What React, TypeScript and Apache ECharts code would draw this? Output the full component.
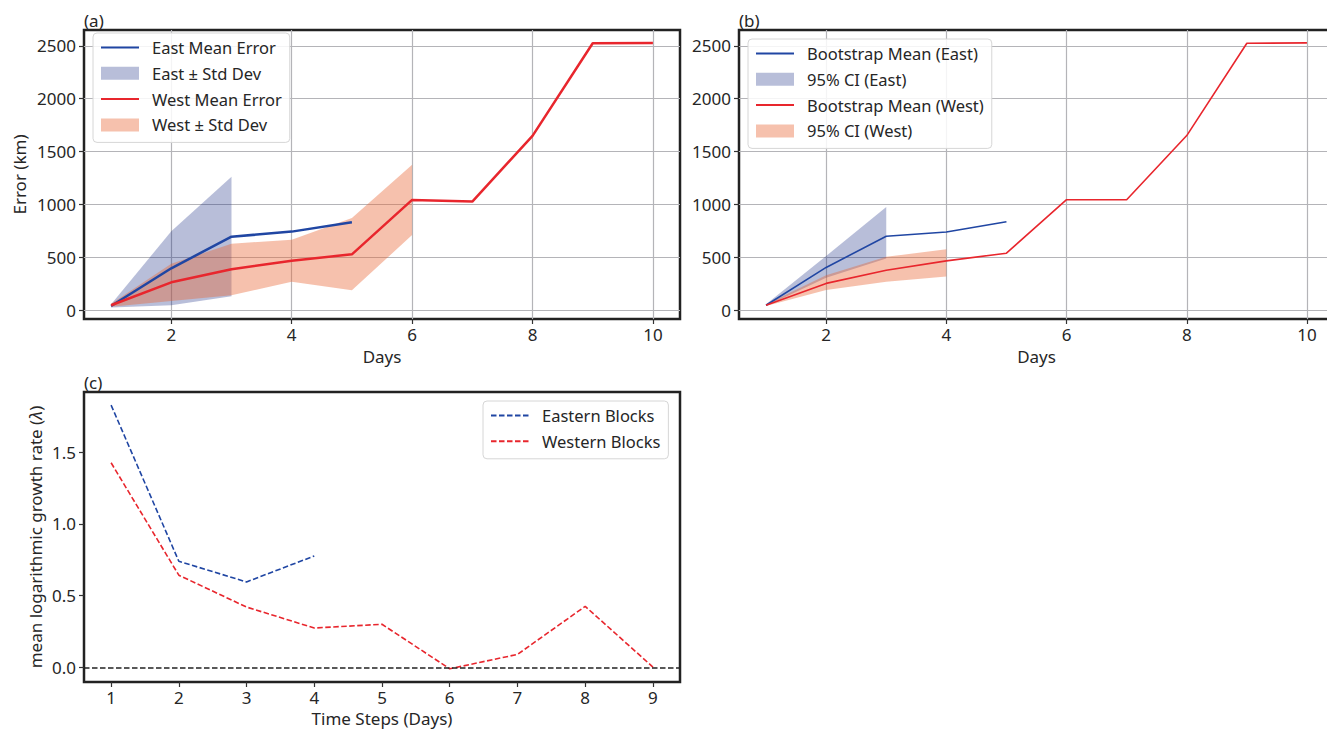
import React, { useEffect, useRef } from 'react';
import * as echarts from 'echarts';

// ---------- data ----------
const daysA = [1, 2, 3, 4, 5, 6, 7, 8, 9, 10];
const eastMeanA = [38, 395, 694, 742, 830];
const eastLowA = [25, 45, 130];
const eastHighA = [55, 745, 1262];
const westMeanA = [45, 262, 385, 467, 527, 1042, 1026, 1648, 2525, 2528];
const westLowA = [30, 85, 140, 268, 186, 710];
const westHighA = [60, 437, 628, 665, 872, 1374];

const daysB = [1, 2, 3, 4, 5, 6, 7, 8, 9, 10];
const eastMeanB = [45, 403, 698, 738, 836];
const eastLowB = [38, 305, 488];
const eastHighB = [55, 512, 975];
const westMeanB = [45, 252, 377, 465, 538, 1044, 1044, 1651, 2525, 2528];
const westLowB = [38, 190, 268, 318];
const westHighB = [55, 330, 503, 575];

const stepsC = [1, 2, 3, 4, 5, 6, 7, 8, 9];
const easternC = [1.827, 0.739, 0.595, 0.776];
const westernC = [1.425, 0.642, 0.42, 0.274, 0.3, -0.01, 0.09, 0.425, 0.002];

const errorTicks = [0, 500, 1000, 1500, 2000, 2500];
const dayTicks = [2, 4, 6, 8, 10];
const stepTicks = [1, 2, 3, 4, 5, 6, 7, 8, 9];
const lambdaTicks = [0, 0.5, 1, 1.5];

// ---------- styles ----------
const FONT = 'Noto Sans';
const TXT = '#262626';
const BLUE = '#2046a3';
const RED = '#e8262d';
const BLUE_BAND = 'rgba(20,40,130,0.3)';
const RED_BAND = 'rgba(232,100,50,0.4)';
const GRIDLINE = '#b4b4b8';

const pairs = (xs: number[], ys: number[]) => ys.map((y, i) => [xs[i], y]);
const bandRows = (xs: number[], lo: number[], hi: number[]) => hi.map((h, i) => [xs[i], lo[i], h]);

function xAxisDef(gridIndex: number, min: number, max: number, ticks: number[], name: string, nameGap: number, split: boolean) {
  return {
    type: 'value', gridIndex, min, max,
    name, nameLocation: 'middle', nameGap,
    nameTextStyle: { fontSize: 17, color: TXT, fontFamily: FONT },
    axisLine: { show: false, onZero: false },
    axisTick: { show: true, customValues: ticks, length: 5, lineStyle: { color: '#333', width: 1.2 } },
    axisLabel: { customValues: ticks, margin: 7, fontSize: 17, color: TXT, fontFamily: FONT, formatter: (v: number) => String(v) },
    splitLine: { show: split, lineStyle: { color: GRIDLINE, width: 1.2 } },
  };
}

function yAxisDef(gridIndex: number, min: number, max: number, ticks: number[], name: string | undefined, nameGap: number, split: boolean, fmt: (v: number) => string) {
  return {
    type: 'value', gridIndex, min, max,
    name, nameLocation: 'middle', nameGap,
    nameTextStyle: {
      fontSize: 17, color: TXT, fontFamily: FONT,
      rich: { i: { fontSize: 17, color: TXT, fontFamily: FONT, fontStyle: 'italic' } },
    },
    axisLine: { show: false, onZero: false },
    axisTick: { show: true, customValues: ticks, length: 5, lineStyle: { color: '#333', width: 1.2 } },
    axisLabel: { customValues: ticks, margin: 8, fontSize: 17, color: TXT, fontFamily: FONT, formatter: fmt },
    splitLine: { show: split, lineStyle: { color: GRIDLINE, width: 1.2 } },
  };
}

const lineItem = (name: string) => ({ name, itemStyle: { opacity: 0 } });
const rectItem = (name: string) => ({ name, icon: 'rect', itemStyle: { borderWidth: 0 } });

function legendDef(left: number, top: number, data: any[]) {
  return {
    orient: 'vertical', left, top,
    data,
    itemWidth: 38, itemHeight: 13, itemGap: 8.8,
    padding: [6, 8, 9, 7],
    backgroundColor: 'rgba(255,255,255,0.85)',
    borderColor: '#d6d6d6', borderWidth: 1, borderRadius: 4,
    textStyle: { fontSize: 16.5, color: TXT, fontFamily: FONT, lineHeight: 16, padding: [0, 0, 0, 8] },
    selectedMode: false,
  };
}

function meanLine(name: string, xi: number, data: number[][], color: string, width: number, dash?: number[]) {
  return {
    name, type: 'line', xAxisIndex: xi, yAxisIndex: xi, data,
    symbol: 'none', showSymbol: false, color,
    lineStyle: { color, width, type: dash || 'solid' }, silent: true,
  };
}

function band(name: string, xi: number, xs: number[], lo: number[], hi: number[], color: string) {
  const rows = bandRows(xs, lo, hi);
  return {
    name, type: 'custom', xAxisIndex: xi, yAxisIndex: xi,
    data: rows,
    encode: { x: 0, y: [1, 2] },
    color,
    itemStyle: { color },
    silent: true,
    clip: true,
    renderItem: (params: any, api: any) => {
      if (params.dataIndex !== 0) return null;
      const upper = rows.map((r) => api.coord([r[0], r[2]]));
      const lower = rows.map((r) => api.coord([r[0], r[1]])).reverse();
      return {
        type: 'polygon',
        shape: { points: upper.concat(lower) },
        style: { fill: color, stroke: 'none' },
      };
    },
  };
}

export default function App() {
  const ref = useRef<HTMLDivElement>(null);

  useEffect(() => {
    if (!ref.current) return;
    const chart = echarts.init(ref.current, undefined, { renderer: 'svg' });
    const frame = { show: true, borderColor: '#222', borderWidth: 2.5, backgroundColor: 'transparent', containLabel: false, outerBoundsMode: 'none' };
    const titleStyle = { fontSize: 17, fontWeight: 'normal', color: TXT, fontFamily: FONT };
    const option: any = {
      animation: false,
      backgroundColor: '#ffffff',
      textStyle: { fontFamily: FONT },
      title: [
        { text: '(a)', left: 84, top: 12, padding: 0, textStyle: titleStyle },
        { text: '(b)', left: 739, top: 12, padding: 0, textStyle: titleStyle },
        { text: '(c)', left: 84, top: 374, padding: 0, textStyle: titleStyle },
      ],
      grid: [
        { ...frame, left: 84, top: 30, width: 596, height: 289 },
        { ...frame, left: 739, top: 30, width: 595, height: 289 },
        { ...frame, left: 84, top: 392, width: 596, height: 290 },
      ],
      xAxis: [
        xAxisDef(0, 0.55, 10.45, dayTicks, 'Days', 29, true),
        xAxisDef(1, 0.55, 10.45, dayTicks, 'Days', 29, true),
        xAxisDef(2, 0.6, 9.4, stepTicks, 'Time Steps (Days)', 28, false),
      ],
      yAxis: [
        yAxisDef(0, -85, 2650, errorTicks, 'Error (km)', 56, true, (v: number) => String(v)),
        yAxisDef(1, -85, 2650, errorTicks, undefined, 55, true, (v: number) => String(v)),
        yAxisDef(2, -0.102, 1.918, lambdaTicks, 'mean logarithmic growth rate ({i|λ})', 40, false, (v: number) => v.toFixed(1)),
      ],
      legend: [
        legendDef(93, 33, [
          lineItem('East Mean Error'),
          rectItem('East ± Std Dev'),
          lineItem('West Mean Error'),
          rectItem('West ± Std Dev'),
        ]),
        legendDef(748, 39, [
          lineItem('Bootstrap Mean (East)'),
          rectItem('95% CI (East)'),
          lineItem('Bootstrap Mean (West)'),
          rectItem('95% CI (West)'),
        ]),
        legendDef(483, 401, [lineItem('Eastern Blocks'), lineItem('Western Blocks')]),
      ],
      series: [
        // panel (a)
        meanLine('East Mean Error', 0, pairs(daysA, eastMeanA), BLUE, 2.5),
        band('East ± Std Dev', 0, daysA, eastLowA, eastHighA, BLUE_BAND),
        meanLine('West Mean Error', 0, pairs(daysA, westMeanA), RED, 2.5),
        band('West ± Std Dev', 0, daysA, westLowA, westHighA, RED_BAND),
        // panel (b)
        meanLine('Bootstrap Mean (East)', 1, pairs(daysB, eastMeanB), BLUE, 1.6),
        band('95% CI (East)', 1, daysB, eastLowB, eastHighB, BLUE_BAND),
        meanLine('Bootstrap Mean (West)', 1, pairs(daysB, westMeanB), RED, 1.6),
        band('95% CI (West)', 1, daysB, westLowB, westHighB, RED_BAND),
        // panel (c)
        meanLine('Eastern Blocks', 2, pairs(stepsC, easternC), BLUE, 1.6, [5.5, 2.5]),
        {
          ...meanLine('Western Blocks', 2, pairs(stepsC, westernC), RED, 1.6, [5.5, 2.5]),
          markLine: {
            silent: true, symbol: ['none', 'none'], label: { show: false },
            lineStyle: { color: '#222', width: 1.6, type: [5.5, 2.5] },
            data: [{ yAxis: 0 }],
          },
        },
      ],
    };
    chart.setOption(option);
    return () => chart.dispose();
  }, []);

  return (
    <div
      ref={ref}
      style={{ position: 'fixed', left: 0, top: 0, width: 1327, height: 729, background: '#fff' }}
    />
  );
}
